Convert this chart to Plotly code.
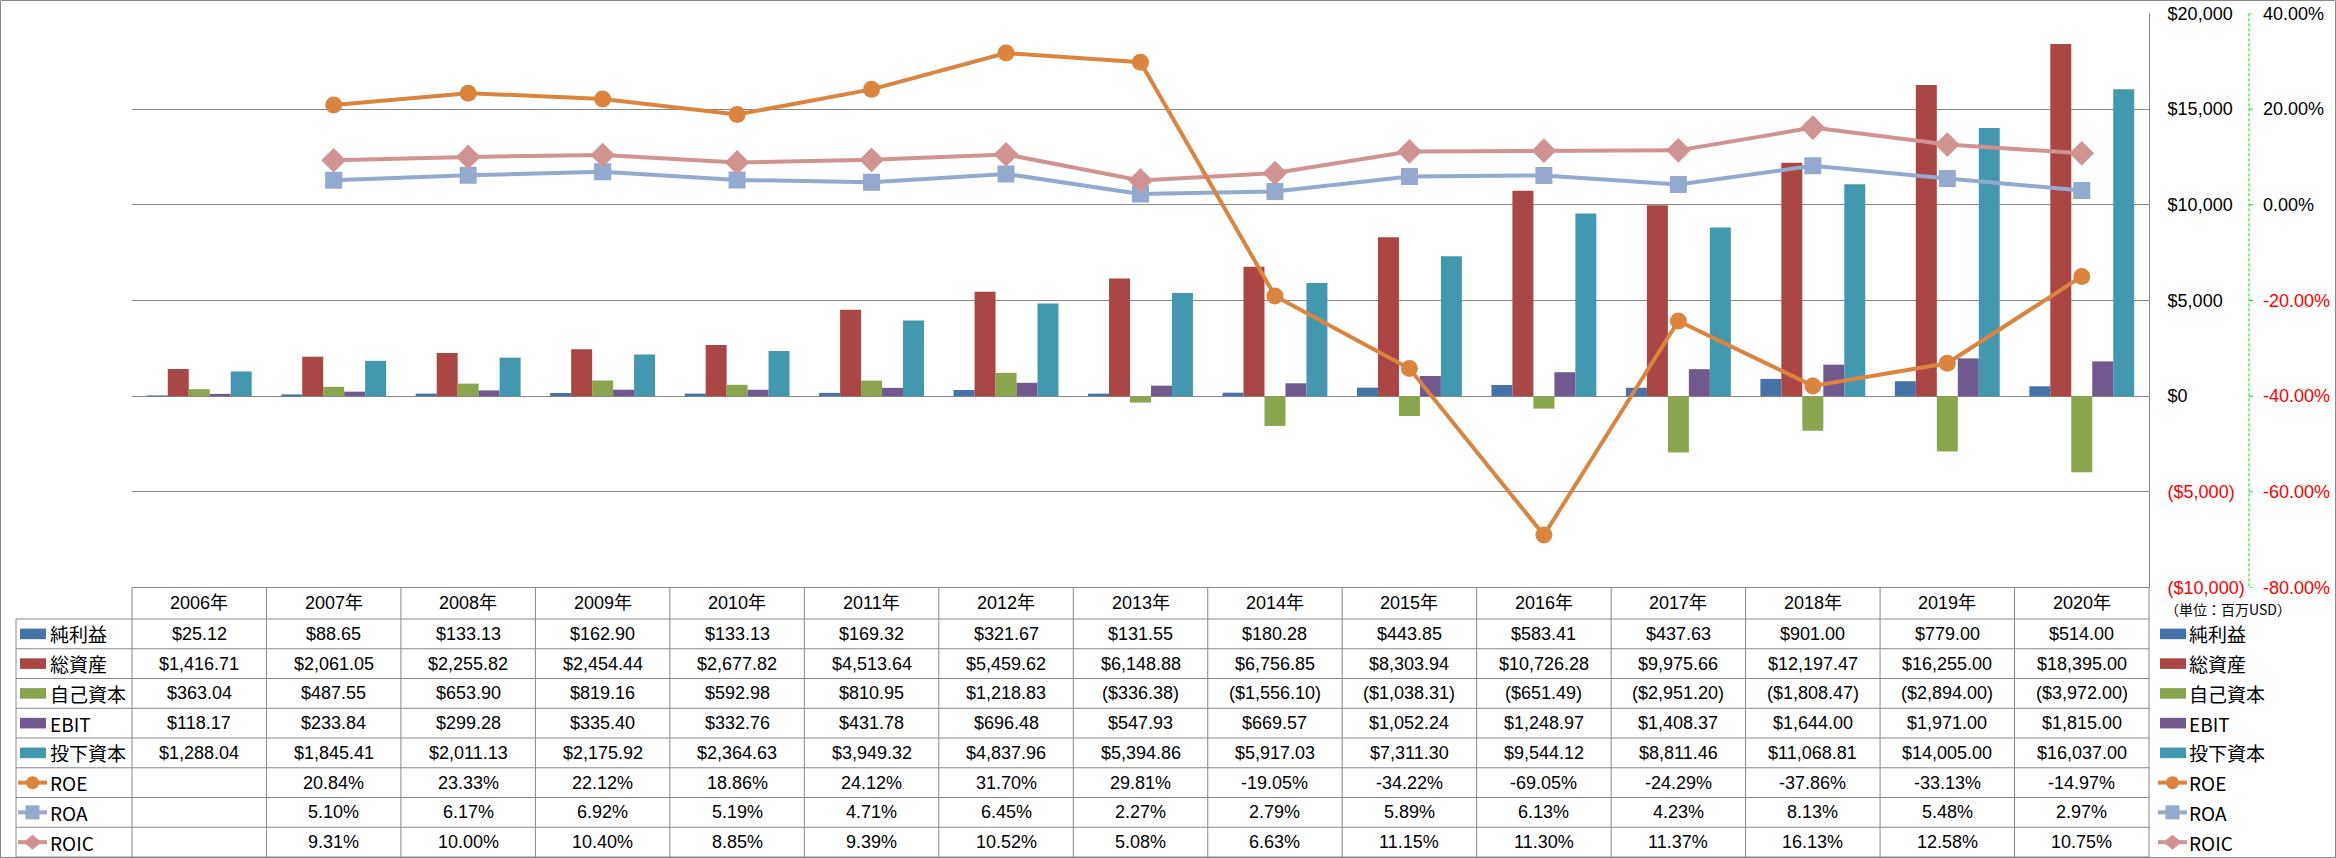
import plotly.graph_objects as go

# ---------------- data ----------------
years = ["2006年", "2007年", "2008年", "2009年", "2010年", "2011年", "2012年", "2013年",
         "2014年", "2015年", "2016年", "2017年", "2018年", "2019年", "2020年"]
net_income = [25.12, 88.65, 133.13, 162.90, 133.13, 169.32, 321.67, 131.55, 180.28,
              443.85, 583.41, 437.63, 901.00, 779.00, 514.00]
total_assets = [1416.71, 2061.05, 2255.82, 2454.44, 2677.82, 4513.64, 5459.62, 6148.88,
                6756.85, 8303.94, 10726.28, 9975.66, 12197.47, 16255.00, 18395.00]
equity = [363.04, 487.55, 653.90, 819.16, 592.98, 810.95, 1218.83, -336.38, -1556.10,
          -1038.31, -651.49, -2951.20, -1808.47, -2894.00, -3972.00]
ebit = [118.17, 233.84, 299.28, 335.40, 332.76, 431.78, 696.48, 547.93, 669.57,
        1052.24, 1248.97, 1408.37, 1644.00, 1971.00, 1815.00]
invested = [1288.04, 1845.41, 2011.13, 2175.92, 2364.63, 3949.32, 4837.96, 5394.86,
            5917.03, 7311.30, 9544.12, 8811.46, 11068.81, 14005.00, 16037.00]
roe = [None, 20.84, 23.33, 22.12, 18.86, 24.12, 31.70, 29.81, -19.05, -34.22, -69.05,
       -24.29, -37.86, -33.13, -14.97]
roa = [None, 5.10, 6.17, 6.92, 5.19, 4.71, 6.45, 2.27, 2.79, 5.89, 6.13, 4.23, 8.13,
       5.48, 2.97]
roic = [None, 9.31, 10.00, 10.40, 8.85, 9.39, 10.52, 5.08, 6.63, 11.15, 11.30, 11.37,
        16.13, 12.58, 10.75]

bar_names = ["純利益", "総資産", "自己資本", "EBIT", "投下資本"]
line_names = ["ROE", "ROA", "ROIC"]
usd_ticks = [20000, 15000, 10000, 5000, 0, -5000, -10000]
pct_ticks = [40, 20, 0, -20, -40, -60, -80]
unit_label = "（単位：百万USD）"

# ---------------- styling ----------------
W, H = 2336, 858
PLOT_L, PLOT_R = 132, 2149
PLOT_T, PLOT_B = 13.4, 587.5
HEADER_B = 619
TABLE_B = 857
ROW_H = (TABLE_B - HEADER_B) / 8
LEG_L = 16
N = len(years)
COL_W = (PLOT_R - PLOT_L) / N
PCT_AXIS_X = 2249
GREEN = "#00DD00"

bar_colors = ["#4572A7", "#AA4643", "#89A54E", "#71588F", "#4198AF"]
line_colors = ["#DB843D", "#93A9CF", "#D19392"]
line_symbols = ["circle", "square", "diamond"]
line_msizes = [17, 17, 19]
GRID = "#888888"
RED = "#FF0000"
NUM_FONT = "Liberation Sans, Arial, Noto Sans CJK JP, sans-serif"
JP_FONT = "Noto Sans CJK JP, sans-serif"


def px(x):
    return x / W


def py(y):
    return 1 - y / H


fig = go.Figure()

bar_series = [net_income, total_assets, equity, ebit, invested]
for name, vals, col in zip(bar_names, bar_series, bar_colors):
    fig.add_trace(go.Bar(x=years, y=vals, name=name, marker=dict(color=col, line=dict(width=0)),
                         showlegend=False))

line_series = [roe, roa, roic]
order = [1, 2, 0]  # ROE drawn on top
for i in order:
    fig.add_trace(go.Scatter(
        x=years, y=line_series[i], name=line_names[i], yaxis="y2", mode="lines+markers",
        line=dict(color=line_colors[i], width=4),
        marker=dict(symbol=line_symbols[i], size=line_msizes[i], color=line_colors[i],
                    line=dict(width=0)),
        connectgaps=False, showlegend=False))


def usd_fmt(v, dec=2):
    s = f"${abs(v):,.{dec}f}"
    return f"({s})" if v < 0 else s


usd_text = []
for v in usd_ticks:
    t = usd_fmt(v, 0)
    usd_text.append(f"<span style='color:{RED}'>{t}</span>" if v < 0 else t)
pct_text = []
for v in pct_ticks:
    t = f"{v:.2f}%"
    pct_text.append(f"<span style='color:{RED}'>{t}</span>" if v < 0 else t)

fig.update_layout(
    width=W, height=H, margin=dict(l=0, r=0, t=0, b=0, autoexpand=False),
    paper_bgcolor="white", plot_bgcolor="white",
    barmode="group", bargap=0.22, bargroupgap=0,
    xaxis=dict(domain=[px(PLOT_L), px(PLOT_R)], type="category", range=[-0.5, N - 0.5],
               showticklabels=False, showgrid=False, zeroline=False, showline=False,
               ticks="", automargin=False),
    yaxis=dict(domain=[py(PLOT_B), py(PLOT_T)], range=[-10000, 20000], side="right",
               tickvals=usd_ticks, ticktext=usd_text, showgrid=True, gridcolor=GRID,
               gridwidth=1, zeroline=True, zerolinecolor=GRID, zerolinewidth=1,
               showline=True, linecolor=GRID, linewidth=1, ticks="",
               ticklabelstandoff=14, automargin=False,
               tickfont=dict(family=NUM_FONT, size=18, color="black")),
    yaxis2=dict(overlaying="y", side="right", anchor="x", range=[-80, 40], tickvals=pct_ticks,
                ticktext=pct_text, showgrid=False, zeroline=False, showline=False,
                ticks="", ticklabelstandoff=PCT_AXIS_X + 18 - PLOT_R - 5, automargin=False,
                tickfont=dict(family=NUM_FONT, size=18, color="black")),
)

shapes = []
annotations = []

# dashed green secondary axis line with its tick marks
shapes.append(dict(type="line", xref="paper", yref="paper", x0=px(PCT_AXIS_X), x1=px(PCT_AXIS_X),
                   y0=py(PLOT_T), y1=py(PLOT_B), line=dict(color=GREEN, width=1, dash="3px,2px")))
for v in pct_ticks:
    shapes.append(dict(type="line", xref="paper", yref="y2", x0=px(PCT_AXIS_X), x1=px(PCT_AXIS_X + 4),
                       y0=v, y1=v, line=dict(color=GREEN, width=1)))


def hline(y, x0, x1):
    shapes.append(dict(type="line", xref="paper", yref="paper", x0=px(x0), x1=px(x1),
                       y0=py(y), y1=py(y), line=dict(color=GRID, width=1)))


def vline(x, y0, y1):
    shapes.append(dict(type="line", xref="paper", yref="paper", x0=px(x), x1=px(x),
                       y0=py(y0), y1=py(y1), line=dict(color=GRID, width=1)))


hline(PLOT_B, PLOT_L, PLOT_R)
for r in range(9):
    hline(HEADER_B + r * ROW_H, LEG_L, PLOT_R)
vline(LEG_L, HEADER_B, TABLE_B)
for c in range(N + 1):
    vline(PLOT_L + c * COL_W, PLOT_B, TABLE_B)

# header
for c, yr in enumerate(years):
    annotations.append(dict(xref="paper", yref="paper", x=px(PLOT_L + (c + 0.5) * COL_W),
                            y=py((PLOT_B + HEADER_B) / 2), text=yr, showarrow=False,
                            xanchor="center", yanchor="middle",
                            font=dict(family=NUM_FONT, size=18, color="black")))

# values
rows = [[usd_fmt(v) for v in s] for s in bar_series]
rows += [["" if v is None else f"{v:.2f}%" for v in s] for s in line_series]
for r, row in enumerate(rows):
    cy = HEADER_B + (r + 0.5) * ROW_H
    for c, t in enumerate(row):
        if not t:
            continue
        annotations.append(dict(xref="paper", yref="paper", x=px(PLOT_L + (c + 0.5) * COL_W),
                                y=py(cy), text=t, showarrow=False, xanchor="center",
                                yanchor="middle",
                                font=dict(family=NUM_FONT, size=18, color="black")))


def legend_key(x_sw, x_txt, r):
    cy = HEADER_B + (r + 0.5) * ROW_H
    if r < 5:
        col = bar_colors[r]
        shapes.append(dict(type="rect", xref="paper", yref="paper", x0=px(x_sw), x1=px(x_sw + 26),
                           y0=py(cy - 5.3), y1=py(cy + 5.3), fillcolor=col, line=dict(width=0)))
        name = bar_names[r]
    else:
        i = r - 5
        col = line_colors[i]
        name = line_names[i]
        shapes.append(dict(type="line", xref="paper", yref="paper", x0=px(x_sw - 2), x1=px(x_sw + 27),
                           y0=py(cy), y1=py(cy), line=dict(color=col, width=4)))
        cx = x_sw + 12.5
        if i == 0:
            shapes.append(dict(type="circle", xref="paper", yref="paper", x0=px(cx - 6.5),
                               x1=px(cx + 6.5), y0=py(cy - 6.5), y1=py(cy + 6.5),
                               fillcolor=col, line=dict(width=0)))
        elif i == 1:
            shapes.append(dict(type="rect", xref="paper", yref="paper", x0=px(cx - 7),
                               x1=px(cx + 7), y0=py(cy - 7), y1=py(cy + 7),
                               fillcolor=col, line=dict(width=0)))
        else:
            path = (f"M {px(cx - 9)} {py(cy)} L {px(cx)} {py(cy - 7.5)} L {px(cx + 9)} {py(cy)} "
                    f"L {px(cx)} {py(cy + 7.5)} Z")
            shapes.append(dict(type="path", xref="paper", yref="paper", path=path,
                               fillcolor=col, line=dict(width=0)))
    annotations.append(dict(xref="paper", yref="paper", x=px(x_txt), y=py(cy), text=name,
                            showarrow=False, xanchor="left", yanchor="middle",
                            font=dict(family=JP_FONT, size=19, color="black")))


for r in range(8):
    legend_key(20, 48, r)
    legend_key(2160, 2187, r)

annotations.append(dict(xref="paper", yref="paper", x=px(2163), y=py(609), text=unit_label,
                        showarrow=False, xanchor="left", yanchor="middle",
                        font=dict(family=JP_FONT, size=14, color="black")))

shapes.append(dict(type="rect", xref="paper", yref="paper", x0=px(0.5), x1=px(W - 0.5),
                   y0=py(0.5), y1=py(H - 0.5), line=dict(color=GRID, width=1)))

fig.update_layout(shapes=shapes, annotations=annotations)

fig.write_html("out.html", config={"displayModeBar": False},
               post_script="document.body.style.margin='0';document.body.style.overflow='hidden';")
